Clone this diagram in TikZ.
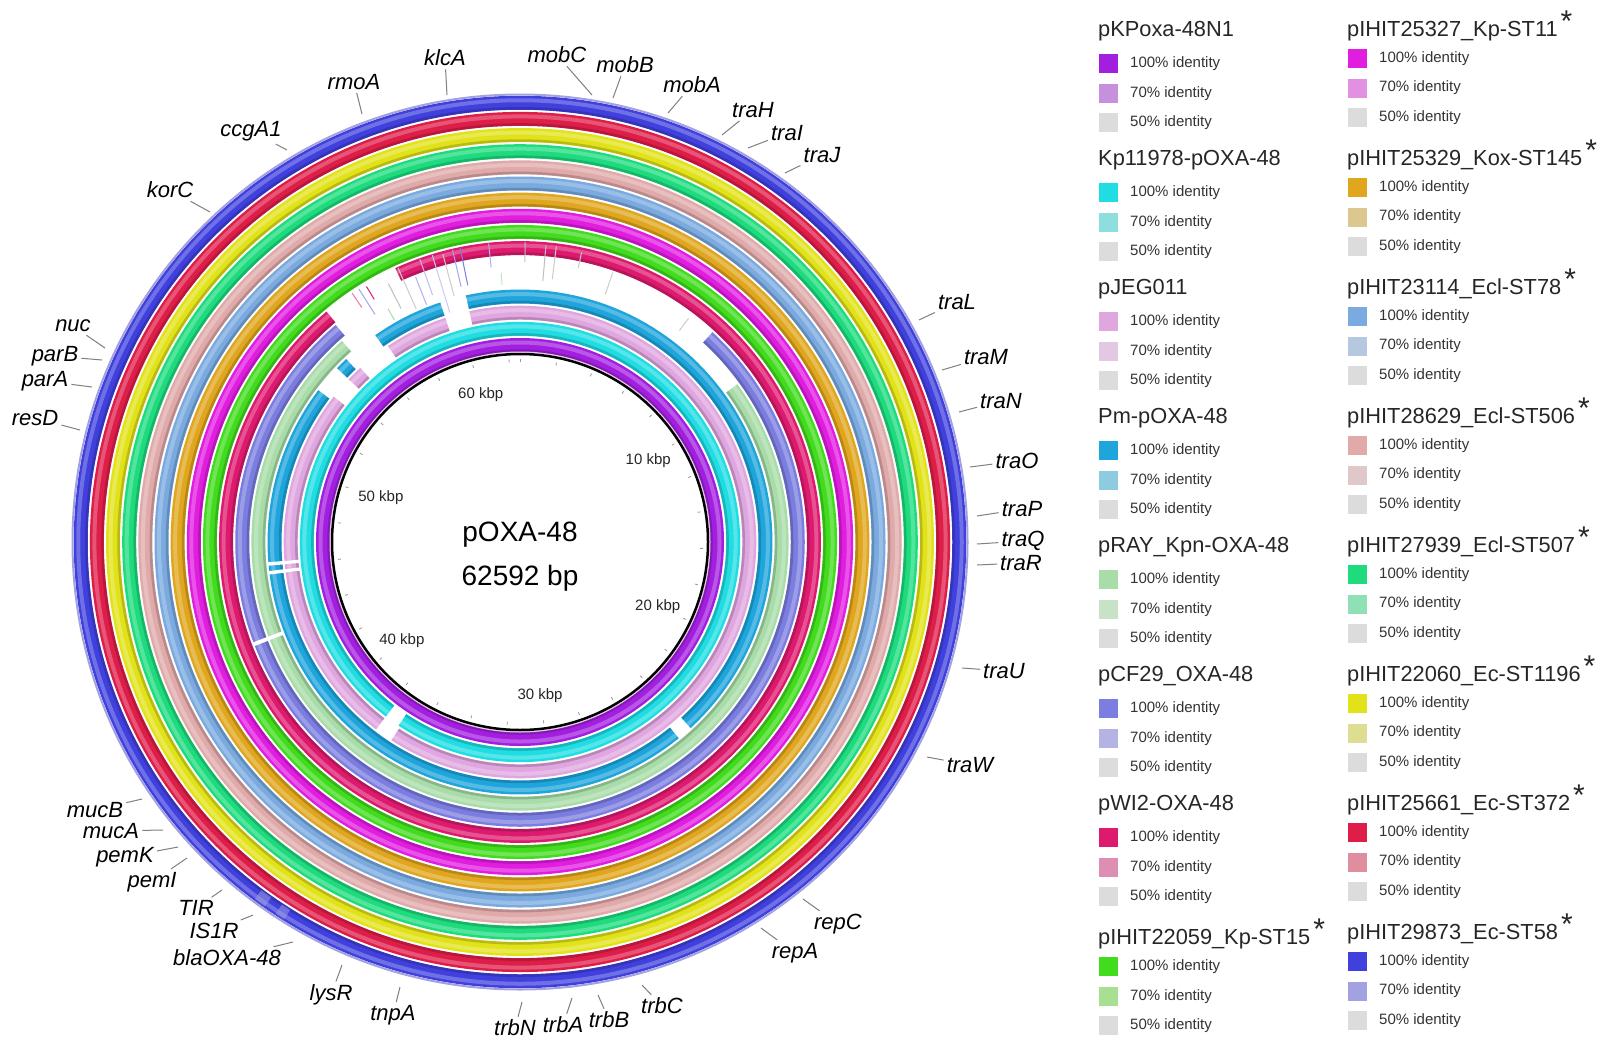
\documentclass[tikz,border=0pt]{standalone}
\usepackage{fontspec}
\setmainfont{Liberation Sans}
\definecolor{c1}{HTML}{A21FE0}
\definecolor{c2}{HTML}{1FDDE3}
\definecolor{c3}{HTML}{E0A6E0}
\definecolor{c4}{HTML}{1EA5DC}
\definecolor{c5}{HTML}{A8DCA8}
\definecolor{c6}{HTML}{7B7DE0}
\definecolor{c7}{HTML}{DE1A6E}
\definecolor{c8}{HTML}{42DC1E}
\definecolor{c9}{HTML}{E11DE0}
\definecolor{c10}{HTML}{E0A61E}
\definecolor{c11}{HTML}{7AAAE0}
\definecolor{c12}{HTML}{E0AAAA}
\definecolor{c13}{HTML}{1EDC7E}
\definecolor{c14}{HTML}{E2E21A}
\definecolor{c15}{HTML}{DE1E48}
\definecolor{c16}{HTML}{4040DE}
\definecolor{l1}{HTML}{C690DD}
\definecolor{l2}{HTML}{8EDEDE}
\definecolor{l3}{HTML}{E2C8E2}
\definecolor{l4}{HTML}{8FCBE0}
\definecolor{l5}{HTML}{C8E2C8}
\definecolor{l6}{HTML}{B4B4E4}
\definecolor{l7}{HTML}{DE8EB2}
\definecolor{l8}{HTML}{A6E090}
\definecolor{l9}{HTML}{E290E2}
\definecolor{l10}{HTML}{DCC88E}
\definecolor{l11}{HTML}{B6C8E0}
\definecolor{l12}{HTML}{E0C8C8}
\definecolor{l13}{HTML}{90E0B6}
\definecolor{l14}{HTML}{DEDE92}
\definecolor{l15}{HTML}{DE8E9E}
\definecolor{l16}{HTML}{A2A2E2}
\definecolor{g50}{HTML}{DCDCDC}
\newcommand\legendgroup[5]{%
  \node[lgtitle] (t#1) at (#2,#3-32.5) {#5};
  \node[swatch, fill=c#4] (sa#1) at (#2+10.5,#3) {};
  \node[swatch, fill=l#4] (sb#1) at (#2+10.5,#3+29.7) {};
  \node[swatch, fill=g50] (sc#1) at (#2+10.5,#3+59.4) {};
  \node[lgtext] (ta#1) at (#2+32,#3) {100\% identity};
  \node[lgtext] (tb#1) at (#2+32,#3+29.7) {70\% identity};
  \node[lgtext] (tc#1) at (#2+32,#3+59.4) {50\% identity};
}
\newcommand\lgstar{\hspace{3pt}\raisebox{5pt}{\fontsize{30}{30}\selectfont *}}
\newcommand\genelabel[4]{%
  \coordinate (e-#1) at (#4);
  \node[gene] (#1) at (#3) {#2};
  \draw[leader] (#1) -- (e-#1);
}
\begin{document}
\begin{tikzpicture}[x=1pt,y=-1pt,
  gene/.style={font=\fontsize{22}{24}\selectfont\itshape, inner sep=3pt},
  leader/.style={draw=black!50, line width=1pt},
  lgtitle/.style={font=\fontsize{21.8}{24}\selectfont, anchor=west, inner sep=0pt, text=black!85},
  lgtext/.style={font=\fontsize{15}{18}\selectfont, anchor=west, inner sep=0pt, text=black!80},
  swatch/.style={minimum size=19pt, inner sep=0pt, draw=none},
  kbp/.style={font=\fontsize{15}{18}\selectfont, text=black!85}]
\fill[white] (0,0) rectangle (1605,1055);
\useasboundingbox (0,0) rectangle (1605,1055);

\begin{scope}[shift={(520,542)}]
  % rings
  \foreach \i in {1,...,16}{
    \pgfmathsetmacro\r{197+16.15*(\i-1)}
    \pgfmathsetmacro\ri{\r-5.5}
    \pgfmathsetmacro\ro{\r+2.5}
    \draw[draw=c\i, line width=14pt] (0,0) circle[radius=\r];
    \draw[draw=c\i!70!black, line width=2.5pt, draw opacity=0.6] (0,0) circle[radius=\ri];
    \draw[draw=c\i!45!white, line width=4pt, draw opacity=0.45] (0,0) circle[radius=\ro];
  }
  % outer halo
  \draw[draw=l16, line width=2pt] (0,0) circle[radius=447.5];
  % light patches on outer ring
  \foreach \a/\b in {212/213.3, 215/216.6}{
    \draw[draw=l16, line width=11pt, draw opacity=0.5] ({\a-90}:439.25) arc[start angle={\a-90}, end angle={\b-90}, radius=439.25];
  }
  % gaps
  \foreach \i/\a/\b in {2/213.5/217.5, 3/213/217.5, 3/308/313.5, 3/317.5/326, 3/341.6/347.6,
      4/307/313.5, 4/316.5/325, 4/341.6/347.6, 4/137.5/141,
      5/318.5/414, 6/319.7/402.5, 7/320/335.5,
      3/262.6/263.4, 3/264.6/265.4, 4/262.6/263.4, 4/264.6/265.4,
      5/248.6/249.4, 6/248.6/249.4}{
    \pgfmathsetmacro\r{197+16.15*(\i-1)}
    \draw[white, line width=15.6pt] ({\a-90}:\r) arc[start angle={\a-90}, end angle={\b-90}, radius=\r];
  }
  % thin fragments in gap region
  \foreach \a/\ra/\rb/\col in {326/283/300/c7!60, 327.5/270/300/c6!70, 329/283/298/c7, 330.5/255/268/c5,
      333/262/290/black!25, 336/255/300/black!20, 338.5/255/285/c6!60, 340.5/262/300/c6!50,
      343/240/300/c6!40, 345/255/298/black!20, 347/262/300/c6!70, 348.5/262/300/c6,
      354/276/300/c6!60, 356/258/270/c5!70, 1/280/300/black!25, 5/262/298/black!25,
      7/265/298/black!20, 12/280/296/black!20, 19/262/285/black!20, 37/265/280/black!20}{
    \draw[draw=\col, line width=1pt] ({\a-90}:\ra) -- ({\a-90}:\rb);
  }
  % backbone
  \draw[draw=c3!60!white, line width=1pt] (0,0) circle[radius=190];
  \draw[black, line width=2.5pt] (0,0) circle[radius=188];
  \foreach \k in {0,...,31}{
    \draw[black!40, line width=0.8pt] ({11.502*\k-90}:180) -- ({11.502*\k-90}:183);
  }
  \foreach \k/\rr in {1/152,2/152,3/155,4/154,5/146,6/153}{
    \node[kbp] (kbp\k) at ({57.52*\k-90}:\rr) {\k0 kbp};
  }
  \node[font=\fontsize{28}{30}\selectfont] (name) at (0,-7) {pOXA-48};
  \node[font=\fontsize{28}{30}\selectfont] (size) at (0,36) {62592 bp};
\end{scope}

% gene labels
\genelabel{klcA}{klcA}{445,58}{447,95}
\genelabel{mobC}{mobC}{557,55}{592,95}
\genelabel{mobB}{mobB}{625,65}{613,98}
\genelabel{mobA}{mobA}{692,85}{668,113}
\genelabel{traH}{traH}{753,110}{722,135}
\genelabel{traI}{traI}{787,133}{748,148}
\genelabel{traJ}{traJ}{822,155}{785,173}
\genelabel{rmoA}{rmoA}{354,82}{362,114}
\genelabel{ccgA}{ccgA1}{251,131}{287,150}
\genelabel{korC}{korC}{170,190}{210,212}
\genelabel{nuc}{nuc}{73,326}{105,348}
\genelabel{parB}{parB}{55,356}{102,360}
\genelabel{parA}{parA}{45,381}{92,387}
\genelabel{resD}{resD}{35,418}{80,430}
\genelabel{traL}{traL}{957,302}{919,320}
\genelabel{traM}{traM}{986,357}{942,370}
\genelabel{traN}{traN}{1001,401}{959,412}
\genelabel{traO}{traO}{1017,461}{970,467}
\genelabel{traP}{traP}{1022,509}{977,516}
\genelabel{traQ}{traQ}{1023,541}{977,544}
\genelabel{traR}{traR}{1021,563}{977,565}
\genelabel{traU}{traU}{1004,671}{962,668}
\genelabel{traW}{traW}{970,765}{927,757}
\genelabel{repC}{repC}{838,924}{803,899}
\genelabel{repA}{repA}{795,953}{761,928}
\genelabel{trbC}{trbC}{662,1006}{642,985}
\genelabel{trbB}{trbB}{609,1020}{598,995}
\genelabel{trbA}{trbA}{563,1025}{572,998}
\genelabel{trbN}{trbN}{515,1028}{522,1002}
\genelabel{tnpA}{tnpA}{393,1015}{400,987}
\genelabel{lysR}{lysR}{331,995}{342,965}
\genelabel{bla}{blaOXA-48}{227,958}{293,942}
\genelabel{isr}{IS1R}{214,931}{253,915}
\genelabel{tir}{TIR}{196,908}{222,890}
\genelabel{pemI}{pemI}{152,882}{187,858}
\genelabel{pemK}{pemK}{125,857}{178,847}
\genelabel{mucA}{mucA}{111,831}{163,830}
\genelabel{mucB}{mucB}{95,810}{142,799}

% legend, left column
\legendgroup{L1}{1098}{63.5}{1}{pKPoxa-48N1}
\legendgroup{L2}{1098}{192.5}{2}{Kp11978-pOXA-48}
\legendgroup{L3}{1098}{321.5}{3}{pJEG011}
\legendgroup{L4}{1098}{450.5}{4}{Pm-pOXA-48}
\legendgroup{L5}{1098}{579.5}{5}{pRAY\_Kpn-OXA-48}
\legendgroup{L6}{1098}{708.5}{6}{pCF29\_OXA-48}
\legendgroup{L7}{1098}{837.5}{7}{pWI2-OXA-48}
\legendgroup{L8}{1098}{966.5}{8}{pIHIT22059\_Kp-ST15\lgstar}
% legend, right column
\legendgroup{R1}{1347}{58.3}{9}{pIHIT25327\_Kp-ST11\lgstar}
\legendgroup{R2}{1347}{187.3}{10}{pIHIT25329\_Kox-ST145\lgstar}
\legendgroup{R3}{1347}{316.3}{11}{pIHIT23114\_Ecl-ST78\lgstar}
\legendgroup{R4}{1347}{445.3}{12}{pIHIT28629\_Ecl-ST506\lgstar}
\legendgroup{R5}{1347}{574.3}{13}{pIHIT27939\_Ecl-ST507\lgstar}
\legendgroup{R6}{1347}{703.3}{14}{pIHIT22060\_Ec-ST1196\lgstar}
\legendgroup{R7}{1347}{832.3}{15}{pIHIT25661\_Ec-ST372\lgstar}
\legendgroup{R8}{1347}{961.3}{16}{pIHIT29873\_Ec-ST58\lgstar}
\end{tikzpicture}
\end{document}
